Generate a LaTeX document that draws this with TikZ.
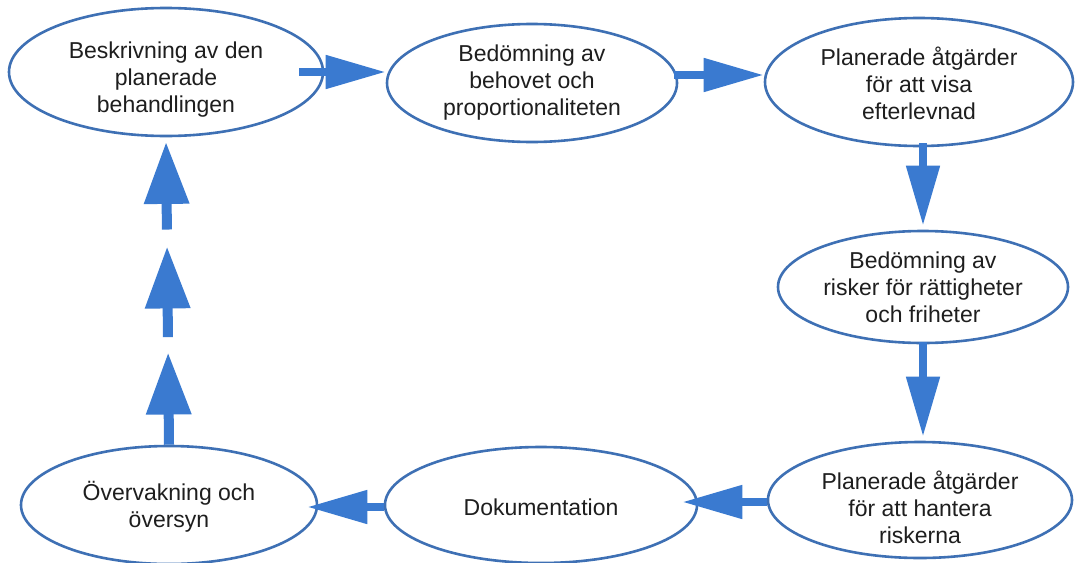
\documentclass[tikz,border=0pt]{standalone}
\usepackage{fontspec}
\setmainfont{Liberation Sans}
\usetikzlibrary{shapes.geometric,arrows.meta,calc}
\definecolor{lineblue}{RGB}{62,112,180}
\definecolor{arrowblue}{RGB}{58,122,208}
\definecolor{txt}{RGB}{30,30,30}
\begin{document}
\begin{tikzpicture}[x=1pt,y=-1pt,
  box/.style={draw=lineblue, line width=2.6pt, ellipse, inner sep=0pt, fill=white},
  label text/.style={align=center, inner sep=0pt, font=\fontsize{23}{27}\selectfont, text=txt},
  flow/.style={draw=arrowblue, line width=8pt, -{Triangle[width=32pt,length=60pt]}},
  upflow/.style={draw=arrowblue, line width=10pt, -{Triangle[width=43pt,length=62pt]}}]
\useasboundingbox[fill=white] (0,0) rectangle (1075,562);

\node[box, minimum width=314pt, minimum height=128pt] (e1) at (166,72) {};
\node[box, minimum width=290pt, minimum height=118pt] (e2) at (532,83) {};
\node[box, minimum width=308pt, minimum height=128pt] (e3) at (919,82) {};
\node[box, minimum width=290pt, minimum height=112pt] (e4) at (923,287) {};
\node[box, minimum width=304pt, minimum height=116pt] (e5) at (920,500) {};
\node[box, minimum width=312pt, minimum height=116pt] (e6) at (541,505) {};
\node[box, minimum width=296pt, minimum height=118pt] (e7) at (169,505) {};

\node[label text] (t1) at ([yshift=-8pt]e1.center) {Beskrivning av den\\planerade\\behandlingen};
\node[label text] (t2) at (e2.center) {Bedömning av\\behovet och\\proportionaliteten};
\node[label text] (t3) at ([yshift=-1pt]e3.center) {Planerade åtgärder\\för att visa\\efterlevnad};
\node[label text] (t4) at (e4.center) {Bedömning av\\risker för rättigheter\\och friheter};
\node[label text] (t5) at ([yshift=-7pt]e5.center) {Planerade åtgärder\\för att hantera\\riskerna};
\node[label text] (t6) at ([yshift=-2pt]e6.center) {Dokumentation};
\node[label text] (t7) at ([yshift=-2pt]e7.center) {Övervakning och\\översyn};

\draw[flow, shorten <=-25pt] (e1.east) -- (e1.east -| e2.west);
\draw[flow, shorten <=-4pt] ([yshift=8pt]e2.east) -- ([yshift=8pt]e2.east -| e3.west);
\draw[flow, shorten <=-4pt, shorten >=4pt] (e4.north |- e3.south) -- (e4.north);
\draw[flow, shorten <=-2pt, shorten >=4pt] (e4.south) -- (e4.south |- e5.north);
\draw[flow, shorten >=-16pt] ([yshift=-2pt]e5.west) -- ([yshift=-2pt]e5.west -| e6.east);
\draw[flow, shorten >=-11pt] ([yshift=-2pt]e6.west) -- ([yshift=-2pt]e6.west -| e7.east);

\draw[upflow] ($(e7.north)!0!(e1.south)$) -- ($(e7.north)!0.30!(e1.south)$);
\draw[upflow] ($(e7.north)!0.35!(e1.south)$) -- ($(e7.north)!0.645!(e1.south)$);
\draw[upflow] ($(e7.north)!0.70!(e1.south)$) -- ($(e7.north)!0.985!(e1.south)$);
\end{tikzpicture}
\end{document}
